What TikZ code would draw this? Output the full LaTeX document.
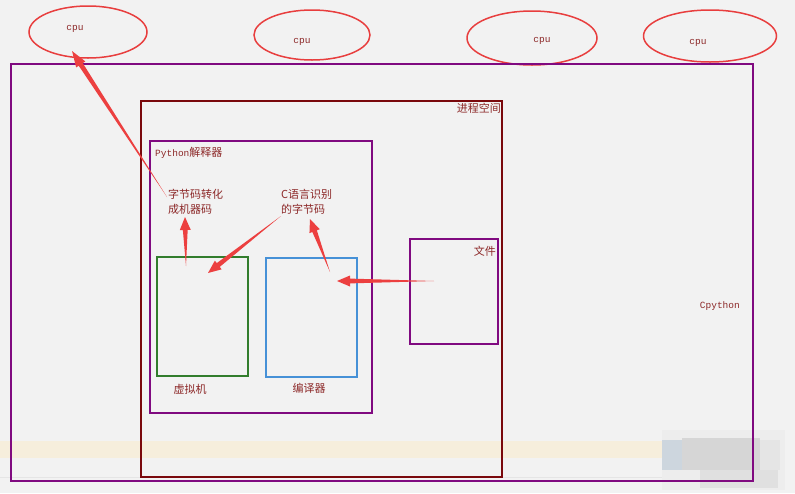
\documentclass[tikz,border=0pt]{standalone}
\usepackage{fontspec}
\setmonofont{Liberation Mono}
\newfontfamily\cjk{Noto Sans CJK SC}
\usetikzlibrary{calc,shapes.geometric}
\definecolor{bg}{RGB}{242,242,242}
\definecolor{band}{RGB}{246,238,220}
\definecolor{blurblue}{RGB}{205,214,222}
\definecolor{cpured}{RGB}{232,62,62}
\definecolor{arrred}{RGB}{236,64,64}
\definecolor{outerpurple}{RGB}{128,10,128}
\definecolor{maroon}{RGB}{122,8,12}
\definecolor{vmgreen}{RGB}{50,125,45}
\definecolor{cblue}{RGB}{70,145,215}
\definecolor{txt}{RGB}{140,40,40}
\newcommand{\taper}[3]{%
  \path ($(#2)!#3!(#1)$) coordinate (tB);
  \fill[arrred] (#1) -- ($(tB)!2.4pt!90:(#1)$) -- ($(tB)!5.5pt!90:(#1)$) -- (#2)
     -- ($(tB)!5.5pt!-90:(#1)$) -- ($(tB)!2.4pt!-90:(#1)$) -- cycle;}
\begin{document}
\begin{tikzpicture}[x=1pt,y=-1pt,
  box/.style={draw,line width=1.6pt,anchor=north west,inner sep=0pt,outer sep=0pt},
  cpuell/.style={draw=cpured,ellipse,line width=1.5pt,inner sep=0pt},
  mono/.style={font=\ttfamily\fontsize{9.5}{11}\selectfont,text=txt,inner sep=0pt},
  zh/.style={font=\cjk\fontsize{11}{15}\selectfont,text=txt,inner sep=0pt,align=left}]
\useasboundingbox (0,0) rectangle (795,493);
\fill[bg] (0,0) rectangle (795,493);
\fill[band] (0,441) rectangle (662,458);
\draw[gray!20,line width=0.8pt] (0,477) -- (662,477);
% blurred patch
\fill[gray!14] (662,430) rectangle (785,490);
\fill[blurblue] (662,440) rectangle (682,470);
\fill[gray!32] (682,438) rectangle (760,470);
\fill[gray!24] (700,470) rectangle (778,488);
\fill[gray!20] (760,440) rectangle (780,470);

% cpu ellipses
\node[cpuell,minimum width=118pt,minimum height=52pt] (e1) at (88,32) {};
\node[cpuell,minimum width=116pt,minimum height=50pt] (e2) at (312,35) {};
\node[cpuell,minimum width=130pt,minimum height=54pt] (e3) at (532,38) {};
\node[cpuell,minimum width=133pt,minimum height=52pt] (e4) at (710,36) {};
\node[mono] (c1) at (75,29) {cpu};
\node[mono] (c2) at (302,42) {cpu};
\node[mono] (c3) at (542,41) {cpu};
\node[mono] (c4) at (698,43) {cpu};

% boxes
\node[box,draw=outerpurple,minimum width=742pt,minimum height=417pt] (cpython) at (11,64) {};
\node[box,draw=maroon,minimum width=361pt,minimum height=376pt] (proc) at (141,101) {};
\node[box,draw=outerpurple,minimum width=222pt,minimum height=272pt] (interp) at (150,141) {};
\node[box,draw=vmgreen,minimum width=91pt,minimum height=119pt] (vm) at (157,257) {};
\node[box,draw=cblue,minimum width=91pt,minimum height=119pt] (comp) at (266,258) {};
\node[box,draw=outerpurple,minimum width=88pt,minimum height=105pt] (file) at (410,239) {};

% labels
\node[mono,anchor=east] (lcpy) at (740,306) {Cpython};
\node[zh,anchor=east] (lproc) at (501,108) {进程空间};
\node[anchor=west,inner sep=0pt,text=txt] (linterp) at (155,153) {{\ttfamily\fontsize{9.5}{11}\selectfont Python}{\cjk\fontsize{11}{12}\selectfont 解释器}};
\node[zh,anchor=east] (lfile) at (496,251) {文件};
\node[zh] (lvm) at (190,389) {虚拟机};
\node[zh] (lcomp) at (309,388) {编译器};
\node[zh,anchor=north west] (lbc) at (168,189) {字节码转化\\成机器码};
\node[zh,anchor=north west] (lc) at (281,189) {C语言识别\\的字节码};

% arrows
\coordinate (a1t) at (167,197); \coordinate (a1h) at (72,51);
\coordinate (a2t) at (186,266); \coordinate (a2h) at (185,217);
\coordinate (a3t) at (281,216); \coordinate (a3h) at (208,273);
\coordinate (a4t) at (330,272); \coordinate (a4h) at (310,219);
\coordinate (a5t) at (434,281); \coordinate (a5h) at (337,281);
\taper{a1t}{a1h}{16pt}
\taper{a2t}{a2h}{13pt}
\taper{a3t}{a3h}{13pt}
\taper{a4t}{a4h}{13pt}
\taper{a5t}{a5h}{13pt}
\end{tikzpicture}
\end{document}
